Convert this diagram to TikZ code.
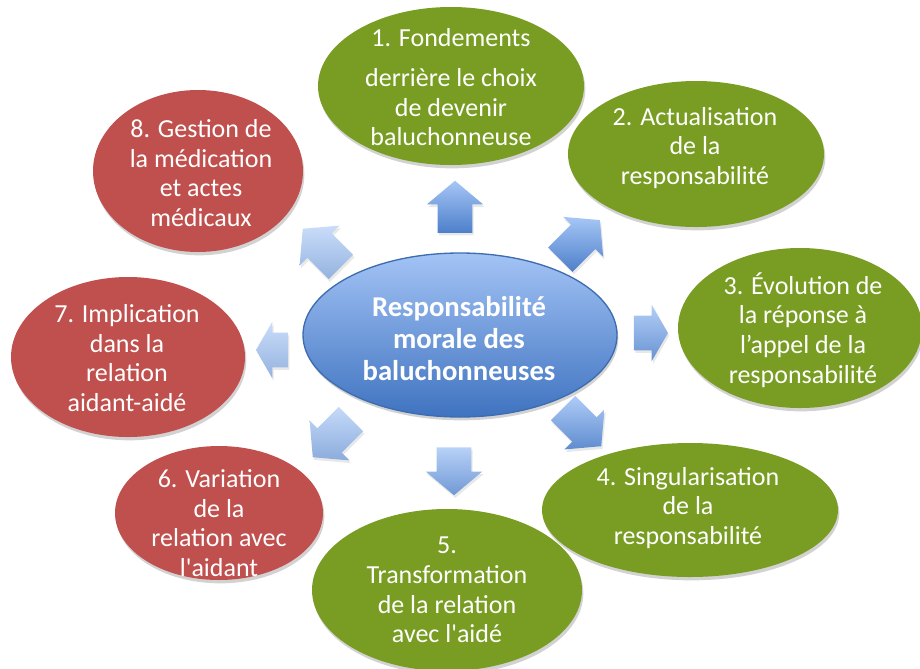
\documentclass[tikz,border=0pt]{standalone}
\usepackage{fontspec}
\setmainfont{Carlito}[Ligatures=TeXOff]
\usetikzlibrary{shapes.geometric}
\usetikzlibrary{shapes.arrows}
\usetikzlibrary{shadows}
\definecolor{bal-green}{HTML}{789D22}
\definecolor{bal-red}{HTML}{C0504D}
\definecolor{hub-top}{HTML}{A3C3F5}
\definecolor{hub-bottom}{HTML}{3F73C0}
\definecolor{hub-line}{HTML}{3D6DB0}
\definecolor{arrow-top}{HTML}{A6C6F6}
\definecolor{arrow-bottom}{HTML}{4D7FCA}
\newcommand{\unitpx}{0.75pt}
\tikzset{
  soft shadow/.style={drop shadow={shadow xshift=1pt, shadow yshift=-2.5pt, opacity=0.25, fill=black!70}},
  bubble/.style n args={3}{
    ellipse,
    fill=#1,
    inner sep=0pt,
    minimum width=#2*\unitpx,
    minimum height=#3*\unitpx,
    soft shadow},
  bubbletext/.style={text=white, align=center, inner sep=0pt, font=\fontsize{19.5}{22.2}\selectfont},
  hub/.style={ellipse, inner sep=0pt, minimum width=314*\unitpx, minimum height=164*\unitpx,
    top color=hub-top, bottom color=hub-bottom, draw=hub-line, line width=1pt, soft shadow},
  hubtext/.style={text=white, align=center, inner sep=0pt, font=\fontsize{21.5}{24}\selectfont\bfseries},
  arrowbox/.style n args={4}{
    single arrow,
    rotate=#1,
    minimum height=#2*\unitpx,
    single arrow tip angle=#3,
    single arrow head extend=11*\unitpx,
    inner xsep=0pt,
    inner ysep=17*\unitpx,
    top color=arrow-top!#4!white,
    bottom color=arrow-bottom!#4!white,
    drop shadow={shadow xshift=1pt, shadow yshift=-2pt, opacity=0.15, fill=black!60}},
}
\begin{document}
\begin{tikzpicture}[x=\unitpx, y=-\unitpx]
\useasboundingbox (0,0) rectangle (920,668);
% outer bubbles
\node[bubble={bal-green}{256}{146}] (e2) at (696,154) {};
\node[bubble={bal-green}{266}{158}] (e1) at (451,86) {};
\node[bubble={bal-green}{244}{160}] (e3) at (800,328) {};
\node[bubble={bal-green}{296}{134}] (e4) at (690,510) {};
\node[bubble={bal-green}{270}{162}] (e5) at (447,590) {};
\node[bubble={bal-red}{208}{134}] (e6) at (219,513) {};
\node[bubble={bal-red}{234}{160}] (e7) at (128,357) {};
\node[bubble={bal-red}{210}{162}] (e8) at (198,171) {};
% texts
\node[bubbletext] (t1) at (451,87) {1. Fondements\\[8pt]derrière le choix\\de devenir\\baluchonneuse};
\node[bubbletext] (t2) at (695,148) {2. Actualisation\\de la\\responsabilité};
\node[bubbletext] (t3) at (803,330) {3. Évolution de\\la réponse à\\l’appel de la\\responsabilité};
\node[bubbletext] (t4) at (688,508) {4. Singularisation\\de la\\responsabilité};
\node[bubbletext] (t5) at (447,590) {5.\\Transformation\\de la relation\\avec l'aidé};
\node[bubbletext] (t6) at (219,523) {6. Variation\\de la\\relation avec\\l'aidant};
\node[bubbletext] (t7) at (127,358) {7. Implication\\dans la\\relation\\aidant-aidé};
\node[bubbletext] (t8) at (201,173) {8. Gestion de\\la médication\\et actes\\médicaux};
% centre
\node[hub] (ec) at (460,335) {};
\node[hubtext] (tc) at (459,339) {Responsabilité\\morale des\\baluchonneuses};
% arrows
\node[arrowbox={90}{52}{100}{100}] (a1) at (455,214) {};
\node[arrowbox={45}{56}{100}{100}] (a2) at (575,245) {};
\node[arrowbox={0}{34}{120}{85}] (a3) at (646,333) {};
\node[arrowbox={-45}{54}{100}{90}] (a4) at (577,422) {};
\node[arrowbox={-90}{48}{100}{80}] (a5) at (454,464) {};
\node[arrowbox={-135}{54}{100}{65}] (a6) at (337,433) {};
\node[arrowbox={180}{32}{120}{60}] (a7) at (277,350) {};
\node[arrowbox={135}{54}{100}{60}] (a8) at (327,253) {};
\end{tikzpicture}
\end{document}
